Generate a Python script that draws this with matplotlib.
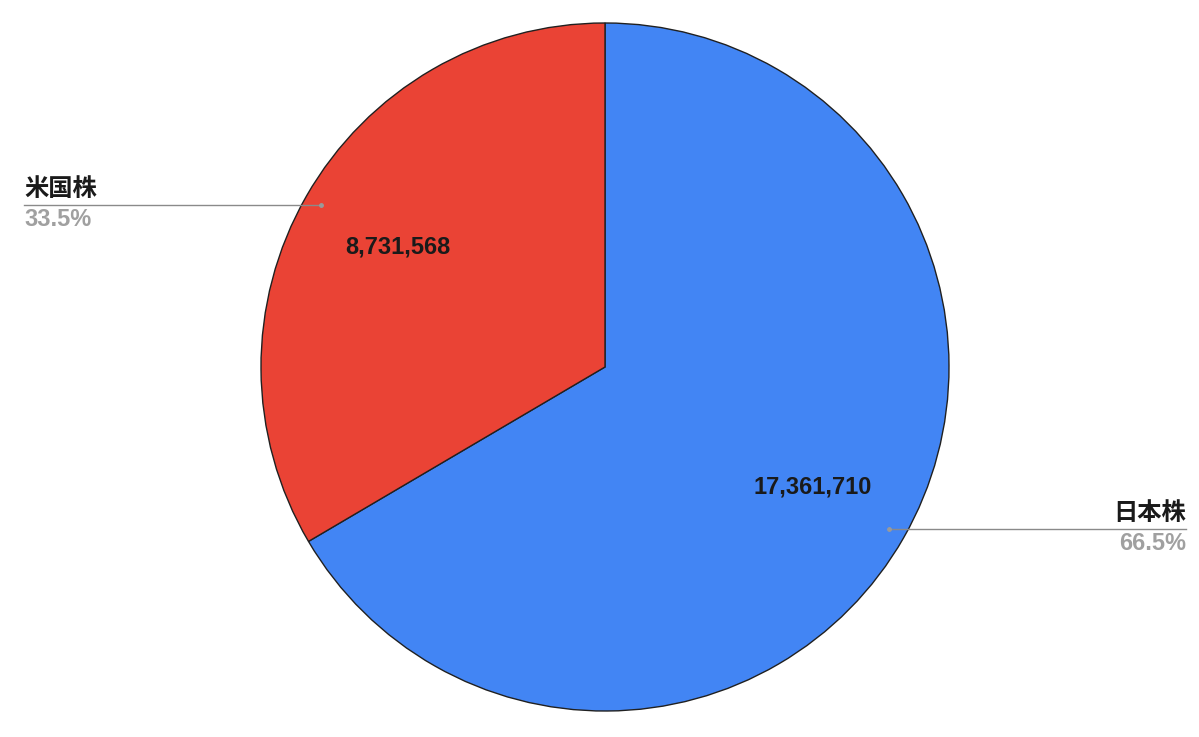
import matplotlib.pyplot as plt
import numpy as np

plt.rcParams['font.family'] = ['Liberation Sans', 'Noto Sans CJK JP', 'DejaVu Sans']

# data
labels = ['日本株', '米国株']
values = [17361710, 8731568]
colors = ['#4285F4', '#EA4335']

W, H = 1199, 737
fig = plt.figure(figsize=(W / 100, H / 100), dpi=100)
ax = fig.add_axes([0, 0, 1, 1])

cx, cy, r = 605, 370, 344
wedges, _ = ax.pie(values, colors=colors, startangle=90, counterclock=False,
                   center=(cx, cy), radius=r, frame=True,
                   wedgeprops=dict(edgecolor='#202020', linewidth=1))
ax.set_xlim(0, W)
ax.set_ylim(0, H)
ax.set_aspect('equal')
ax.axis('off')

total = sum(values)
for w, lab, v in zip(wedges, labels, values):
    mid = np.deg2rad((w.theta1 + w.theta2) / 2)
    ca, sa = np.cos(mid), np.sin(mid)
    # value inside the slice
    ax.text(cx + 0.695 * r * ca, cy + 0.70 * r * sa, f'{v:,}',
            ha='center', va='center', fontsize=17, fontweight='bold',
            color='#1a1a1a')
    # leader line to the outside label
    px, py = cx + 0.95 * r * ca, cy + 0.95 * r * sa
    if ca < 0:
        xe, ha = 24, 'left'
    else:
        xe, ha = 1186, 'right'
    ax.plot([px, xe], [py, py], color='#8a8a8a', lw=1, zorder=5)
    ax.plot(px, py, 'o', color='#9a9a9a', ms=2.5, zorder=6)
    ax.text(xe, py + 4, lab, ha=ha, va='bottom', fontsize=17.5,
            fontweight='bold', color='#1a1a1a',
            family=['Noto Sans CJK JP', 'DejaVu Sans'])
    ax.text(xe, py - 3, f'{v / total * 100:.1f}%', ha=ha, va='top',
            fontsize=17, fontweight='bold', color='#a0a0a0')

fig.savefig('out.png', dpi=100)
